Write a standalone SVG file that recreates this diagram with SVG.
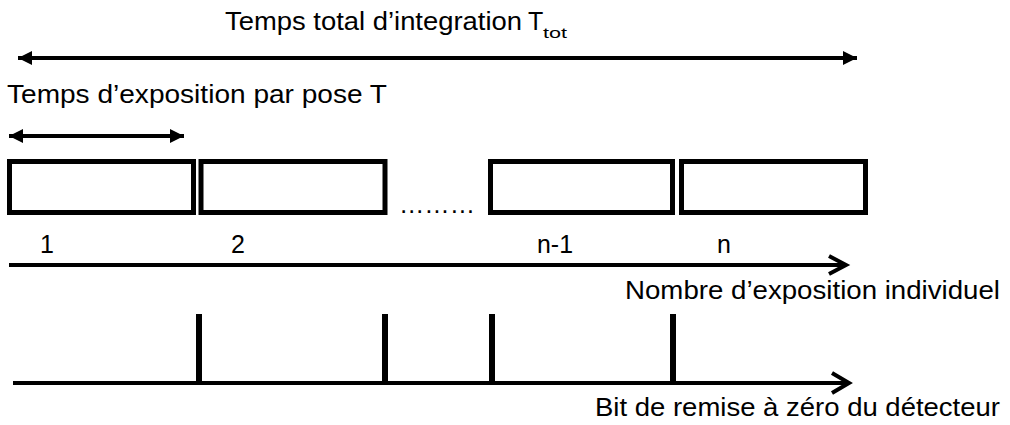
<svg xmlns="http://www.w3.org/2000/svg" width="1010" height="425" viewBox="0 0 1010 425">
<defs>
<style>
text{font-family:"Liberation Sans",Arial,sans-serif;font-size:25px;fill:#000}
.sub{font-size:14px}
.box{fill:#fff;stroke:#000;stroke-width:5}
.ln{stroke:#000;stroke-width:4;fill:none}
.tick{stroke:#000;stroke-width:6}
.chev{stroke:#000;stroke-width:4;fill:none;stroke-linecap:butt;stroke-linejoin:miter}
</style>
<marker id="tri" viewBox="0 0 10 10" refX="10" refY="5" markerUnits="userSpaceOnUse" markerWidth="16" markerHeight="14" orient="auto-start-reverse">
<path d="M0,0 L10,5 L0,10 z" fill="#000"/>
</marker>
</defs>
<rect width="1010" height="425" fill="#fff"/>

<g id="title-total">
<text x="225" y="30" textLength="297" lengthAdjust="spacingAndGlyphs">Temps total d’integration</text>
<text x="528" y="30">T</text>
<text class="sub" x="543" y="38" textLength="24" lengthAdjust="spacingAndGlyphs">tot</text>
</g>

<g id="title-pose">
<text x="7" y="103" textLength="380" lengthAdjust="spacingAndGlyphs">Temps d’exposition par pose T</text>
</g>

<g id="box1"><rect class="box" x="9.5" y="161.5" width="184" height="51"/><text x="40" y="253">1</text></g>
<g id="box2"><rect class="box" x="201" y="161.5" width="184" height="51"/><text x="231" y="253">2</text></g>
<g id="ellipsis"><text x="399" y="213" textLength="76" lengthAdjust="spacingAndGlyphs">………</text></g>
<g id="box3"><rect class="box" x="490.5" y="161.5" width="182" height="51"/><text x="537" y="253" textLength="36" lengthAdjust="spacingAndGlyphs">n-1</text></g>
<g id="box4"><rect class="box" x="681.5" y="161.5" width="184" height="51"/><text x="717" y="253">n</text></g>

<g id="label-nombre"><text x="625" y="299" textLength="375" lengthAdjust="spacingAndGlyphs">Nombre d’exposition individuel</text></g>
<g id="label-bit"><text x="595" y="416" textLength="405" lengthAdjust="spacingAndGlyphs">Bit de remise à zéro du détecteur</text></g>

<g id="connectors">
<line class="ln" x1="18" y1="58" x2="857" y2="58" marker-start="url(#tri)" marker-end="url(#tri)"/>
<line class="ln" x1="9" y1="136" x2="184" y2="136" marker-start="url(#tri)" marker-end="url(#tri)"/>
<line class="ln" x1="9" y1="265" x2="845" y2="265"/>
<polyline class="chev" points="829,256 846,265 829,274"/>
<line class="tick" x1="199" y1="314" x2="199" y2="383"/>
<line class="tick" x1="385" y1="314" x2="385" y2="383"/>
<line class="tick" x1="492" y1="314" x2="492" y2="383"/>
<line class="tick" x1="673" y1="314" x2="673" y2="383"/>
<line class="ln" x1="13" y1="383" x2="848" y2="383"/>
<polyline class="chev" points="832,373 849,383 832,393"/>
</g>
</svg>
